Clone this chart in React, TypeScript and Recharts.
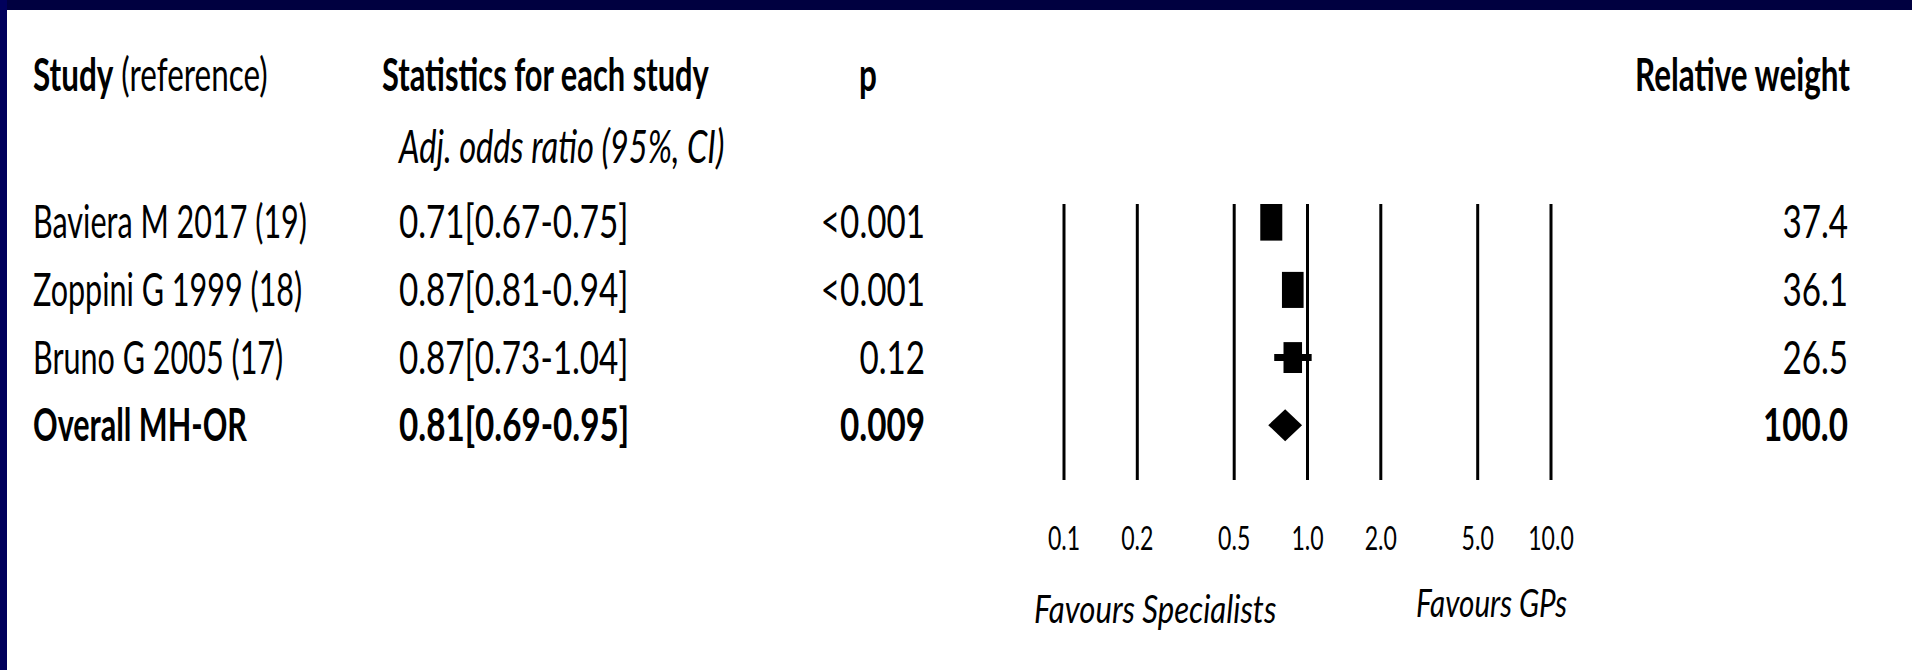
import {
  ScatterChart,
  Scatter,
  XAxis,
  YAxis,
  ReferenceLine,
  ReferenceArea,
  ErrorBar,
  Customized,
} from "recharts";

const studies = ["Baviera M 2017 (19)", "Zoppini G 1999 (18)", "Bruno G 2005 (17)", "Overall MH-OR"];
const oddsRatio = [0.71, 0.87, 0.87, 0.81];
const ciLow = [0.67, 0.81, 0.73, 0.69];
const ciHigh = [0.75, 0.94, 1.04, 0.95];
const pValues = ["<0.001", "<0.001", "0.12", "0.009"];
const weights = [37.4, 36.1, 26.5, 100.0];
const xTicks = [0.1, 0.2, 0.5, 1, 2, 5, 10];

const rows = studies.map((study, i) => {
  const overall = i === studies.length - 1;
  return {
    row: i,
    study,
    or: oddsRatio[i],
    lo: ciLow[i],
    hi: ciHigh[i],
    p: pValues[i],
    weight: weights[i],
    overall,
    err: overall ? null : [oddsRatio[i] - ciLow[i], ciHigh[i] - oddsRatio[i]],
  };
});
const overallRow = rows[rows.length - 1];

const FONT = "Lato, 'Open Sans', sans-serif";
// the slide is squeezed sideways, so text is condensed
const SX_TEXT = 0.664;
const SX_NUM = 0.722;
const SX_HEAD = 0.683;

function Txt({ x, y, anchor = "start", size = 46, sx = SX_TEXT, bold = false, italic = false, children }: any) {
  return (
    <text
      transform={`translate(${x},${y}) scale(${sx},1)`}
      textAnchor={anchor}
      fontSize={size}
      fontWeight={bold ? "bold" : "normal"}
      fontStyle={italic ? "italic" : "normal"}
      fontFamily={FONT}
      fill="#000"
    >
      {children}
    </text>
  );
}

function RowTick(props: any) {
  const { y, payload } = props;
  const r = rows[Math.round(payload.value)];
  if (!r) return null;
  const b = y + 16;
  const stats = `${r.or.toFixed(2)}[${r.lo.toFixed(2)}-${r.hi.toFixed(2)}]`;
  return (
    <g>
      <Txt x={33} y={b} bold={r.overall}>{r.study}</Txt>
      <Txt x={399} y={b} sx={SX_NUM} bold={r.overall}>{stats}</Txt>
      <Txt x={925} y={b} sx={SX_NUM} anchor="end" bold={r.overall}>{r.p}</Txt>
      <Txt x={1848} y={b} sx={SX_NUM} anchor="end" bold={r.overall}>{r.weight.toFixed(1)}</Txt>
    </g>
  );
}

function OrTick(props: any) {
  const { x, payload } = props;
  return (
    <Txt x={x} y={550} anchor="middle" size={33} sx={0.7}>
      {Number(payload.value).toFixed(1)}
    </Txt>
  );
}

function BoxShape(props: any) {
  const { cx, cy, payload } = props;
  if (payload.overall) return <g />;
  const s = Math.sqrt(payload.weight);
  const w = 3.6 * s;
  const h = 6.0 * s;
  return <rect x={cx - w / 2} y={cy - h / 2} width={w} height={h} fill="#000" />;
}

function DiamondShape(props: any) {
  const { x, y, width, height } = props;
  const cx = x + width / 2;
  const cy = y + height / 2;
  const hh = 16;
  return (
    <path
      d={`M${x},${cy} L${cx},${cy - hh} L${x + width},${cy} L${cx},${cy + hh} Z`}
      fill="#000"
    />
  );
}

function Headings() {
  return (
    <g>
      <Txt x={33} y={91} sx={SX_HEAD}>
        <tspan fontWeight="bold">Study</tspan>
        {" (reference)"}
      </Txt>
      <Txt x={382} y={91} sx={0.67} bold>Statistics for each study</Txt>
      <Txt x={868} y={91} sx={SX_HEAD} anchor="middle" bold>p</Txt>
      <Txt x={1850} y={91} sx={SX_HEAD} anchor="end" bold>Relative weight</Txt>
      <Txt x={399} y={163} sx={0.709} italic>Adj. odds ratio (95%, CI)</Txt>
      <Txt x={1034} y={623} size={38} sx={0.82} italic>Favours Specialists</Txt>
      <Txt x={1416} y={617} size={38} sx={0.78} italic>Favours GPs</Txt>
    </g>
  );
}

export default function App() {
  return (
    <div style={{ position: "absolute", left: 0, top: 0, width: 1912, height: 670, background: "#fff" }}>
      <ScatterChart width={1912} height={670} margin={{ top: 204, right: 361, bottom: 130, left: 0 }}>
        <XAxis
          type="number"
          dataKey="or"
          scale="log"
          domain={[0.1, 10]}
          ticks={xTicks}
          interval={0}
          allowDataOverflow
          axisLine={false}
          tickLine={false}
          height={60}
          tick={<OrTick />}
        />
        <YAxis
          type="number"
          dataKey="row"
          reversed
          domain={[-0.27, 3.81]}
          ticks={rows.map((r) => r.row)}
          interval={0}
          allowDataOverflow
          width={1064}
          axisLine={false}
          tickLine={false}
          tick={<RowTick />}
        />
        {xTicks.map((v) => (
          <ReferenceLine key={v} x={v} stroke="#000" strokeWidth={3} />
        ))}
        <ReferenceArea
          x1={overallRow.lo}
          x2={overallRow.hi}
          y1={overallRow.row - 0.5}
          y2={overallRow.row + 0.5}
          ifOverflow="visible"
          shape={<DiamondShape />}
        />
        <Scatter data={rows} shape={<BoxShape />} isAnimationActive={false}>
          <ErrorBar dataKey="err" direction="x" width={0} strokeWidth={7} stroke="#000" />
        </Scatter>
        <Customized component={<Headings />} />
      </ScatterChart>
      <div style={{ position: "absolute", left: 0, top: 0, width: 1912, height: 10, background: "#000040" }} />
      <div style={{ position: "absolute", left: 0, top: 0, width: 7, height: 670, background: "#00005c" }} />
    </div>
  );
}
